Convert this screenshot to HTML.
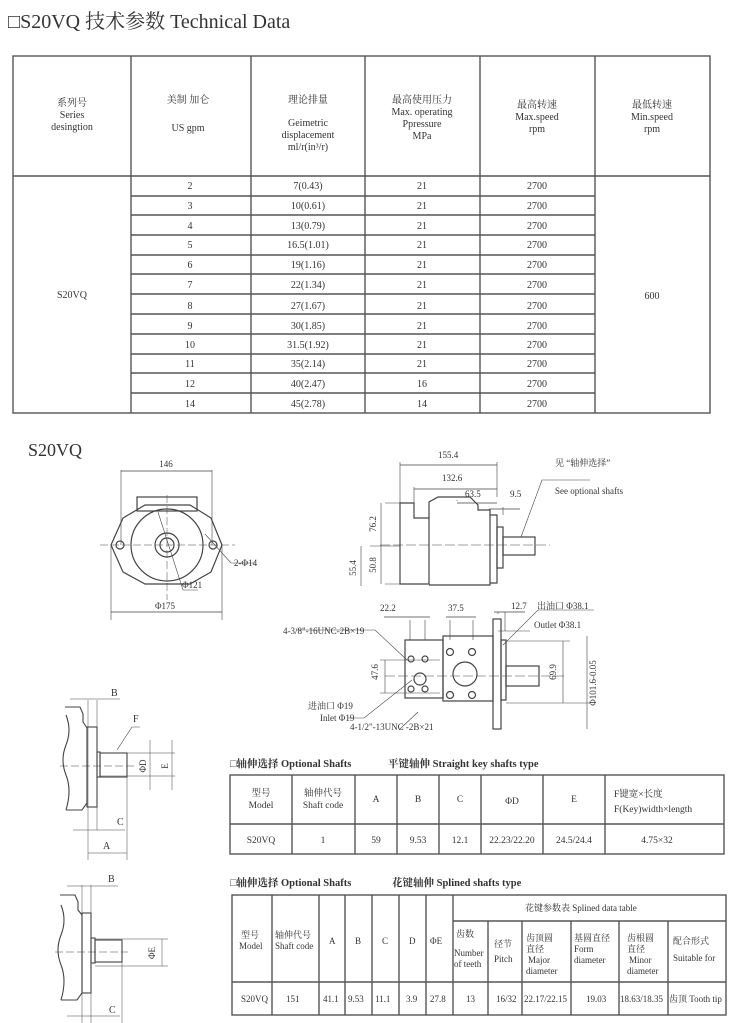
<!DOCTYPE html>
<html><head><meta charset="utf-8"><style>
html,body{margin:0;padding:0;background:#fff;}
svg{display:block;}
text{font-family:"Liberation Serif","Noto Serif CJK SC","Noto Sans CJK SC",serif;fill:#333;}
</style></head><body>
<svg width="750" height="1023" viewBox="0 0 750 1023" xmlns="http://www.w3.org/2000/svg">
<text x="8" y="28" font-size="20">□S20VQ 技术参数 Technical Data</text>
<!-- Table 1 -->
<g stroke="#555" stroke-width="1.4" fill="none">
<rect x="13" y="56" width="697" height="357"/>
<line x1="13" y1="176" x2="710" y2="176"/>
<line x1="131" y1="56" x2="131" y2="413"/>
<line x1="251" y1="56" x2="251" y2="413"/>
<line x1="365" y1="56" x2="365" y2="413"/>
<line x1="480" y1="56" x2="480" y2="413"/>
<line x1="595" y1="56" x2="595" y2="413"/>
<path d="M131 196H595M131 215H595M131 235H595M131 255H595M131 274H595M131 294H595M131 314H595M131 334H595M131 354H595M131 373H595M131 393H595"/>
</g>
<g font-size="10" text-anchor="middle">
<text x="72" y="106">系列号</text><text x="72" y="118">Series</text><text x="72" y="130">desingtion</text>
<text x="188" y="103">美制 加仑</text><text x="188" y="131">US gpm</text>
<text x="308" y="103">理论排量</text><text x="308" y="126">Geimetric</text><text x="308" y="138">displacement</text><text x="308" y="150">ml/r(in³/r)</text>
<text x="422" y="103">最高使用压力</text><text x="422" y="115">Max. operating</text><text x="422" y="127">Ppressure</text><text x="422" y="139">MPa</text>
<text x="537" y="108">最高转速</text><text x="537" y="120">Max.speed</text><text x="537" y="132">rpm</text>
<text x="652" y="108">最低转速</text><text x="652" y="120">Min.speed</text><text x="652" y="132">rpm</text>
<text x="72" y="298">S20VQ</text><text x="652" y="299">600</text>
<g>
<text x="190" y="189">2</text><text x="308" y="189">7(0.43)</text><text x="422" y="189">21</text><text x="537" y="189">2700</text>
<text x="190" y="209">3</text><text x="308" y="209">10(0.61)</text><text x="422" y="209">21</text><text x="537" y="209">2700</text>
<text x="190" y="229">4</text><text x="308" y="229">13(0.79)</text><text x="422" y="229">21</text><text x="537" y="229">2700</text>
<text x="190" y="248">5</text><text x="308" y="248">16.5(1.01)</text><text x="422" y="248">21</text><text x="537" y="248">2700</text>
<text x="190" y="268">6</text><text x="308" y="268">19(1.16)</text><text x="422" y="268">21</text><text x="537" y="268">2700</text>
<text x="190" y="288">7</text><text x="308" y="288">22(1.34)</text><text x="422" y="288">21</text><text x="537" y="288">2700</text>
<text x="190" y="309">8</text><text x="308" y="309">27(1.67)</text><text x="422" y="309">21</text><text x="537" y="309">2700</text>
<text x="190" y="329">9</text><text x="308" y="329">30(1.85)</text><text x="422" y="329">21</text><text x="537" y="329">2700</text>
<text x="190" y="348">10</text><text x="308" y="348">31.5(1.92)</text><text x="422" y="348">21</text><text x="537" y="348">2700</text>
<text x="190" y="367">11</text><text x="308" y="367">35(2.14)</text><text x="422" y="367">21</text><text x="537" y="367">2700</text>
<text x="190" y="387">12</text><text x="308" y="387">40(2.47)</text><text x="422" y="387">16</text><text x="537" y="387">2700</text>
<text x="190" y="407">14</text><text x="308" y="407">45(2.78)</text><text x="422" y="407">14</text><text x="537" y="407">2700</text>
</g></g>
<text x="28" y="456" font-size="18">S20VQ</text>

<!-- Front view -->
<g stroke="#444" stroke-width="1.2" fill="none">
<rect x="137" y="497" width="60" height="14"/>
<path d="M123 518 L145 505 H190 L211 518 L222 545 L211 572 L190 584 H145 L123 572 L111 545 Z"/>
<circle cx="167" cy="545" r="36"/>
<circle cx="167" cy="545" r="12"/>
<circle cx="167" cy="545" r="7"/>
<circle cx="120" cy="545" r="4"/><circle cx="213" cy="545" r="4"/>
<path d="M121 470V545M212 470V545M111 545V620M222 545V620" stroke-width="0.6"/>
<path d="M121 471H212M111 612H222" stroke-width="0.8"/>
<path d="M100 545H235M167 495V600" stroke-width="0.5" stroke-dasharray="8 3"/>
<path d="M205 534 L231 563 H255" stroke-width="0.6"/>
<path d="M158 512 L183 590 H198" stroke-width="0.6"/>
</g>
<g font-size="9" text-anchor="middle"><text x="166" y="467">146</text><text x="165" y="609">Φ175</text></g>
<text x="182" y="588" font-size="9">Φ121</text>
<text x="234" y="566" font-size="9">2-Φ14</text>

<!-- Side view -->
<g stroke="#444" stroke-width="1.2" fill="none">
<path d="M400 503 H414 V518 H429 V584 H400 Z"/>
<path d="M429 518 V502 L438 497 H470 L478 505 V510 H490 V585 H429"/>
<path d="M490 515 H497 V583 H490"/>
<rect x="497" y="527" width="6" height="41"/>
<rect x="503" y="537" width="32" height="18"/>
<path d="M400 503V462M414 503V487M457 500V501M497 497V462M503 515V507" stroke-width="0.6"/>
<path d="M400 465H497M414 489H497M457 503H497M489 509H520" stroke-width="0.8"/>
<path d="M380 545H550" stroke-width="0.5" stroke-dasharray="10 3"/>
<path d="M385 503H400M385 584H400M370 546H400M381 503V584M361 546V586" stroke-width="0.6"/>
<path d="M521 537 L542 480 H590" stroke-width="0.6"/>
</g>
<g font-size="9"><text x="438" y="458">155.4</text><text x="442" y="481">132.6</text><text x="465" y="497">63.5</text><text x="510" y="497">9.5</text>
<text x="555" y="466">见 “轴伸选择”</text><text x="555" y="494">See optional shafts</text></g>
<g font-size="9" text-anchor="middle">
<text transform="translate(376,524) rotate(-90)">76.2</text>
<text transform="translate(376,565) rotate(-90)">50.8</text>
<text transform="translate(356,568) rotate(-90)">55.4</text>
</g>

<!-- Bottom view -->
<g stroke="#444" stroke-width="1.2" fill="none">
<rect x="405" y="640" width="38" height="58"/>
<rect x="443" y="636" width="50" height="65"/>
<rect x="493" y="619" width="8" height="110"/>
<rect x="501" y="640" width="5" height="60"/>
<rect x="506" y="666" width="33" height="20"/>
<circle cx="420" cy="679" r="6"/><circle cx="465" cy="674" r="12"/>
<circle cx="411" cy="659" r="3"/><circle cx="425" cy="659" r="3"/><circle cx="411" cy="689" r="3"/><circle cx="425" cy="689" r="3"/>
<circle cx="450" cy="652" r="3.5"/><circle cx="472" cy="652" r="3.5"/><circle cx="450" cy="695" r="3.5"/><circle cx="472" cy="695" r="3.5"/>
<path d="M385 676H565" stroke-width="0.5" stroke-dasharray="10 3"/>
<path d="M380 660H440M380 693H440M385 660V693M506 641H570M506 703H590M563 641V703M587 636V729M498 631H530M505 631V612M498 614V612M410 620V640M425 620V640M450 620V640M473 620V640" stroke-width="0.6"/>
<path d="M384 617H430M446 617H476M494 612H525" stroke-width="0.7"/>
<path d="M296 630H375L407 660M348 718H364L412 680M399 730 L418 712M503 645 L538 610 H594" stroke-width="0.6"/>
</g>
<g font-size="9"><text x="380" y="611">22.2</text><text x="448" y="611">37.5</text><text x="511" y="609">12.7</text>
<text x="537" y="609">出油口 Φ38.1</text><text x="534" y="628">Outlet Φ38.1</text>
<text x="283" y="634">4-3/8"-16UNC-2B×19</text>
<text x="308" y="709">进油口 Φ19</text><text x="320" y="721">Inlet Φ19</text>
<text x="350" y="730">4-1/2"-13UNC -2B×21</text></g>
<g font-size="9" text-anchor="middle">
<text transform="translate(378,672) rotate(-90)">47.6</text>
<text transform="translate(556,672) rotate(-90)">69.9</text>
<text transform="translate(596,683) rotate(-90)">Φ101.6-0.05</text>
</g>

<!-- Shaft drawing 1 -->
<g stroke="#444" stroke-width="1.1" fill="none">
<path d="M65 707 H80 L83 714 V722 L87 728 V803 L82 810 H66"/>
<path d="M66 715 Q72 730 66 745 Q60 760 66 775 Q72 790 66 810"/>
<rect x="87" y="727" width="10" height="80"/>
<rect x="97" y="752" width="3" height="25"/>
<rect x="100" y="753" width="27" height="24"/>
<path d="M88 700V860M97 700V830M127 776V860M150 740V790M172 740V790" stroke-width="0.5"/>
<path d="M70 699H120M73 830H125M88 853H127M100 753H175M100 776H175" stroke-width="0.5"/>
<path d="M117 750 L132 727 H140" stroke-width="0.6"/>
<path d="M60 766H135" stroke-width="0.5" stroke-dasharray="8 3"/>
</g>
<g font-size="10"><text x="111" y="696">B</text><text x="133" y="722">F</text><text x="117" y="825">C</text><text x="103" y="849">A</text></g>
<g font-size="9" text-anchor="middle"><text transform="translate(146,766) rotate(-90)">ΦD</text><text transform="translate(168,766) rotate(-90)">E</text></g>

<!-- Shaft drawing 2 -->
<g stroke="#444" stroke-width="1.1" fill="none">
<path d="M60 895 H75 L78 902 V910 L82 915 V993 L77 1000 H61"/>
<path d="M61 905 Q67 920 61 935 Q55 950 61 965 Q67 980 61 1000"/>
<rect x="82" y="913" width="9" height="80"/>
<rect x="91" y="938" width="4" height="25"/>
<rect x="95" y="940" width="27" height="22"/>
<path d="M82 885V1023M91 885V1023M122 962V1023" stroke-width="0.5"/>
<path d="M67 886H118M67 1016H120M95 939H168M95 966H168M162 939V966" stroke-width="0.5"/>
<path d="M55 952H128" stroke-width="0.5" stroke-dasharray="8 3"/>
</g>
<g font-size="10"><text x="108" y="882">B</text><text x="109" y="1013">C</text></g>
<text transform="translate(155,953) rotate(-90)" font-size="9" text-anchor="middle">ΦE</text>

<!-- Table 2 -->
<text x="230" y="767" font-size="10.5" font-weight="bold">□轴伸选择 Optional Shafts</text>
<text x="388" y="767" font-size="10.5" font-weight="bold">平键轴伸 Straight  key shafts type</text>
<g stroke="#555" stroke-width="1.4" fill="none">
<rect x="230" y="775" width="494" height="79"/>
<line x1="230" y1="824" x2="724" y2="824"/>
<path d="M292 775V854M355 775V854M397 775V854M439 775V854M481 775V854M543 775V854M605 775V854"/>
</g>
<g font-size="9.5" text-anchor="middle">
<text x="261" y="796">型号</text><text x="261" y="808">Model</text>
<text x="323" y="796">轴伸代号</text><text x="323" y="808">Shaft code</text>
<text x="376" y="802">A</text><text x="418" y="802">B</text><text x="460" y="802">C</text><text x="512" y="804">ΦD</text><text x="574" y="802">E</text>
<text x="261" y="843">S20VQ</text><text x="323" y="843">1</text><text x="376" y="843">59</text><text x="418" y="843">9.53</text><text x="460" y="843">12.1</text><text x="512" y="843">22.23/22.20</text><text x="574" y="843">24.5/24.4</text><text x="657" y="843">4.75×32</text>
</g>
<text x="614" y="797" font-size="9.5">F键宽×长度</text>
<text x="614" y="812" font-size="9.5">F(Key)width×length</text>

<!-- Table 3 -->
<text x="230" y="886" font-size="10.5" font-weight="bold">□轴伸选择 Optional Shafts</text>
<text x="392" y="886" font-size="10.5" font-weight="bold">花键轴伸 Splined shafts type</text>
<g stroke="#555" stroke-width="1.4" fill="none">
<rect x="232" y="895" width="494" height="120"/>
<line x1="232" y1="982" x2="726" y2="982"/>
<line x1="453" y1="921" x2="726" y2="921"/>
<path d="M272 895V1015M319 895V1015M345 895V1015M372 895V1015M399 895V1015M426 895V1015M453 895V1015M488 921V1015M522 921V1015M571 921V1015M619 921V1015M668 921V1015"/>
</g>
<g font-size="9">
<text x="241" y="938">型号</text><text x="239" y="949">Model</text>
<text x="275" y="938">轴伸代号</text><text x="275" y="949">Shaft code</text>
<text x="329" y="944">A</text><text x="355" y="944">B</text><text x="382" y="944">C</text><text x="409" y="944">D</text><text x="430" y="944">ΦE</text>
<text x="525" y="911">花键参数表  Splined data table</text>
<text x="456" y="937">齿数</text><text x="454" y="956">Number</text><text x="454" y="967">of teeth</text>
<text x="494" y="947">径节</text><text x="494" y="962">Pitch</text>
<text x="526" y="941">齿顶圆</text><text x="526" y="952">直径</text><text x="528" y="963">Major</text><text x="526" y="974">diameter</text>
<text x="574" y="941">基圆直径</text><text x="574" y="952">Form</text><text x="574" y="963">diameter</text>
<text x="627" y="941">齿根圆</text><text x="627" y="952">直径</text><text x="629" y="963">Minor</text><text x="627" y="974">diameter</text>
<text x="673" y="944">配合形式</text><text x="673" y="961">Suitable for</text>
<text x="241" y="1002">S20VQ</text><text x="286" y="1002">151</text><text x="323" y="1002">41.1</text><text x="348" y="1002">9.53</text><text x="375" y="1002">11.1</text><text x="406" y="1002">3.9</text><text x="430" y="1002">27.8</text>
<text x="466" y="1002">13</text><text x="496" y="1002">16/32</text><text x="524" y="1002">22.17/22.15</text><text x="586" y="1002">19.03</text><text x="620" y="1002">18.63/18.35</text><text x="669" y="1002">齿顶 Tooth tip</text>
</g>
</svg>
</body></html>
